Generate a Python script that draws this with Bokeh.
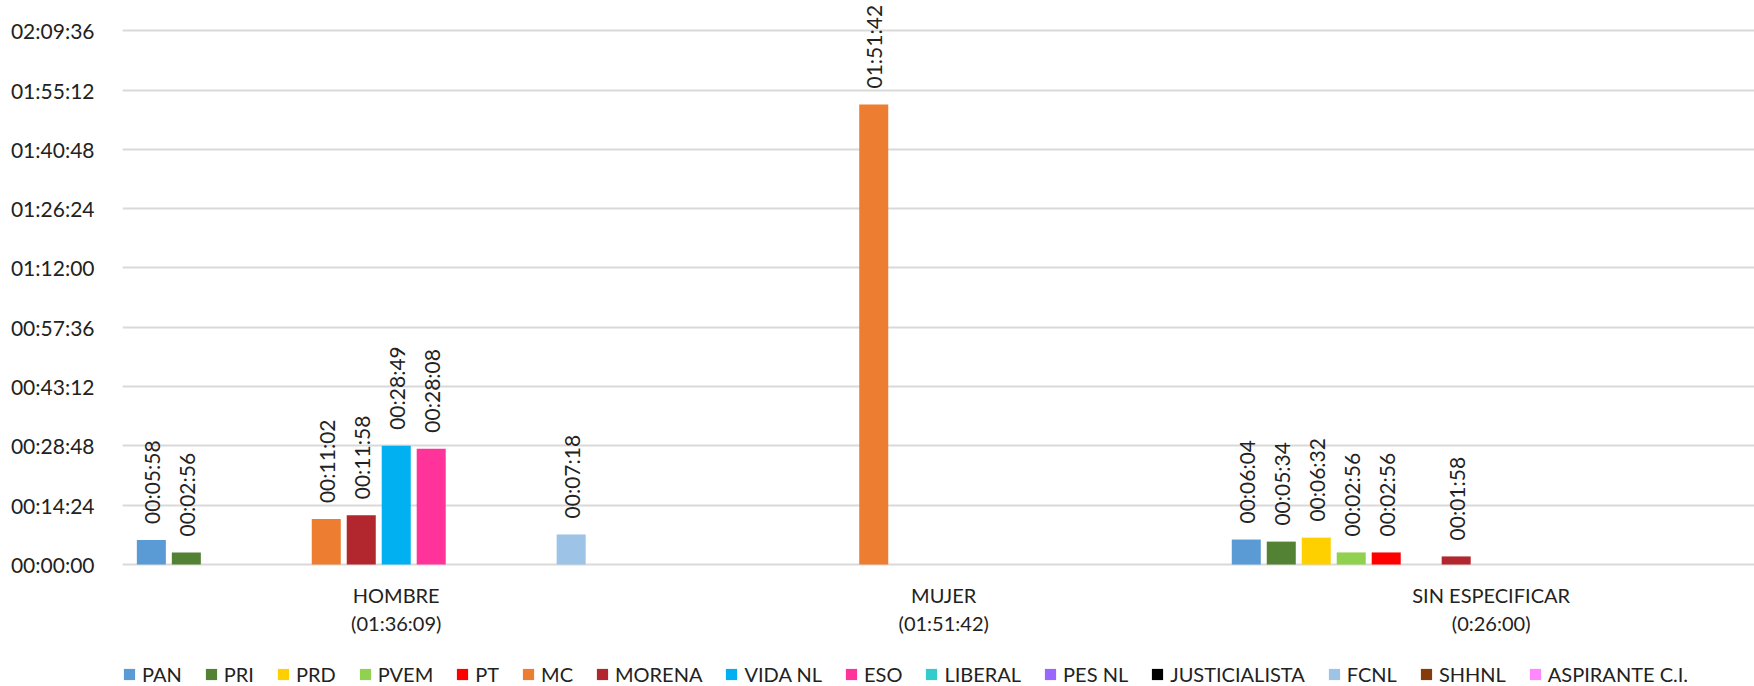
import math
from bokeh.plotting import figure
from bokeh.models import Range1d, FixedTicker, Legend, LegendItem, ColumnDataSource
from bokeh.core.properties import value
from bokeh.embed import file_html
from bokeh.resources import INLINE

# ---------------- data ----------------
categories = ["HOMBRE", "MUJER", "SIN ESPECIFICAR"]
category_totals = ["01:36:09", "01:51:42", "0:26:00"]

parties = ["PAN", "PRI", "PRD", "PVEM", "PT", "MC", "MORENA", "VIDA NL", "ESO",
           "LIBERAL", "PES NL", "JUSTICIALISTA", "FCNL", "SHHNL", "ASPIRANTE C.I."]
party_colors = ["#5B9BD5", "#548235", "#FFD000", "#92D050", "#FF0000", "#ED7D31",
                "#B2262E", "#00B0F0", "#FF3399", "#33CCCC", "#9966FF", "#000000",
                "#9DC3E6", "#843C0C", "#FF88FF"]

# durations per party (same order as parties); None = no time
hombre = ["00:05:58", "00:02:56", None, None, None, "00:11:02", "00:11:58",
          "00:28:49", "00:28:08", None, None, None, "00:07:18", None, None]
mujer = [None, None, None, None, None, "01:51:42", None,
         None, None, None, None, None, None, None, None]
sin_especificar = ["00:06:04", "00:05:34", "00:06:32", "00:02:56", "00:02:56", None, "00:01:58",
                   None, None, None, None, None, None, None, None]

y_tick_labels = ["00:00:00", "00:14:24", "00:28:48", "00:43:12", "00:57:36",
                 "01:12:00", "01:26:24", "01:40:48", "01:55:12", "02:09:36"]


def to_sec(s):
    if s is None:
        return 0
    h, m, sec = (int(v) for v in s.split(":"))
    return h * 3600 + m * 60 + sec


series_by_cat = [hombre, mujer, sin_especificar]

# ---------------- style ----------------
FONT = "Lato"
TXT = "#222222"
STEP = 0.0639      # spacing between bars inside a category (category units)
BAR_W = 0.053
N = len(parties)
MID = (N - 1) / 2

p = figure(width=1754, height=686, output_backend="svg", toolbar_location=None,
           x_range=Range1d(0, 2.981), y_range=Range1d(-1777, 8217),
           x_axis_location=None,
           min_border_left=122, min_border_top=0, min_border_right=0, min_border_bottom=0)
p.outline_line_color = None
p.background_fill_color = "white"
p.border_fill_color = "white"

legend_items = []
lab_x, lab_y, lab_t = [], [], []
for j, party in enumerate(parties):
    xs = [c + 0.5 + (j - MID) * STEP for c in range(len(categories))]
    tops = [to_sec(series_by_cat[c][j]) for c in range(len(categories))]
    src = ColumnDataSource(dict(x=xs, top=tops))
    r = p.vbar(x="x", top="top", width=BAR_W, source=src,
               fill_color=party_colors[j], line_color=None)
    legend_items.append(LegendItem(label=party, renderers=[r]))
    for c in range(len(categories)):
        s = series_by_cat[c][j]
        if s is not None:
            lab_x.append(xs[c])
            lab_y.append(tops[c])
            lab_t.append(s)

# value labels above bars
p.text(x=lab_x, y=lab_y, text=lab_t, angle=math.pi / 2,
       text_align="left", text_baseline="middle", y_offset=-16,
       text_font=value(FONT), text_font_size="21px", text_color=TXT)

# category labels under the zero line
cat_x = [c + 0.5 for c in range(len(categories))]
cat_text = [f"{n}\n({tot})" for n, tot in zip(categories, category_totals)]
p.text(x=cat_x, y=[0] * len(categories), text=cat_text,
       text_align="center", text_baseline="top", y_offset=18,
       text_line_height=1.2,
       text_font=value(FONT), text_font_size="20px", text_color=TXT)

# y axis
y_ticks = [to_sec(t) for t in y_tick_labels]
p.yaxis.ticker = FixedTicker(ticks=y_ticks)
p.yaxis.major_label_overrides = {t: l for t, l in zip(y_ticks, y_tick_labels)}
p.yaxis.axis_line_color = None
p.yaxis.major_tick_line_color = None
p.yaxis.minor_tick_line_color = None
p.yaxis.major_label_text_font = FONT
p.yaxis.major_label_text_font_size = "21px"
p.yaxis.major_label_text_color = TXT
p.yaxis.major_label_standoff = 22

p.xgrid.visible = False
p.ygrid.ticker = FixedTicker(ticks=y_ticks)
p.ygrid.grid_line_color = "#d9d9d9"
p.ygrid.grid_line_width = 2

legend = Legend(items=legend_items, orientation="horizontal", location=(0, 0),
                glyph_width=14, glyph_height=14, label_standoff=6, spacing=22,
                padding=0, margin=0, border_line_color=None, background_fill_alpha=0,
                label_text_font=FONT, label_text_font_size="20px", label_text_color=TXT)
p.add_layout(legend, "center")

open("out.html", "w").write(file_html(p, INLINE))
